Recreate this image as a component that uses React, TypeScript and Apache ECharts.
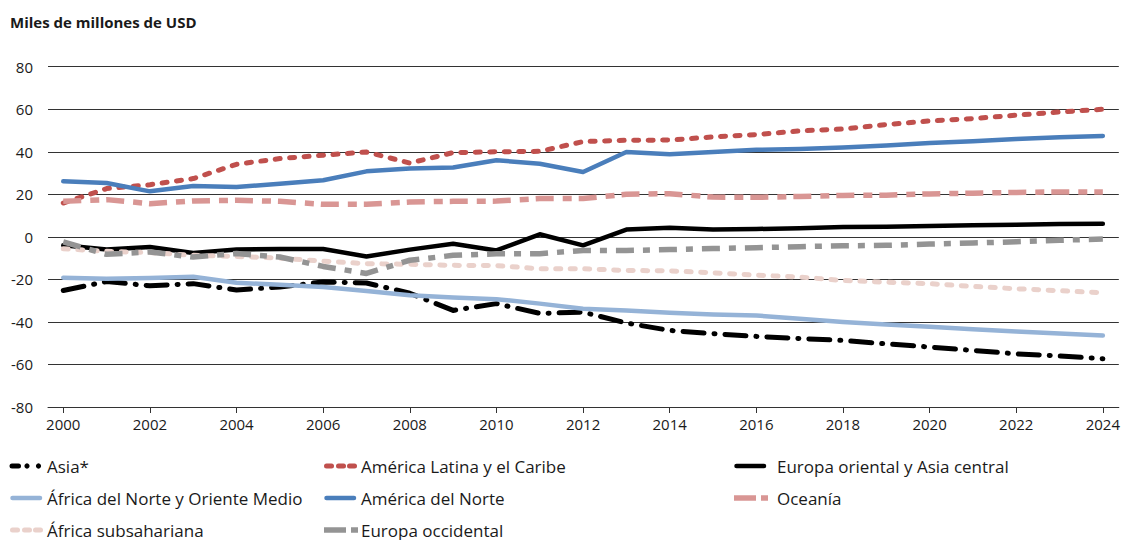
import React, { useEffect, useRef } from "react";
import * as echarts from "echarts";

const years = [2000, 2001, 2002, 2003, 2004, 2005, 2006, 2007, 2008, 2009, 2010, 2011, 2012, 2013, 2014, 2015, 2016, 2017, 2018, 2019, 2020, 2021, 2022, 2023, 2024];
const xTickLabels = [2000, 2002, 2004, 2006, 2008, 2010, 2012, 2014, 2016, 2018, 2020, 2022, 2024];

const asia = [-25.2, -21, -23, -22, -25, -23.6, -21.2, -21.7, -26.5, -34.6, -31.4, -36, -35.4, -40.5, -44, -45.5, -46.8, -47.8, -48.7, -50.3, -51.8, -53.4, -55, -56, -57.3];
const latina = [15.9, 22.7, 24.5, 27.4, 34.1, 36.8, 38.4, 39.9, 34.7, 39.6, 40, 40.2, 44.8, 45.4, 45.5, 47, 48.1, 49.8, 50.7, 52.8, 54.5, 55.6, 57.2, 58.7, 60];
const oriental = [-4, -6, -4.8, -7.6, -5.9, -5.7, -5.7, -9.2, -6, -3.2, -6.4, 1.2, -4, 3.4, 4.3, 3.5, 3.7, 4, 4.6, 4.8, 5.1, 5.4, 5.7, 6, 6.2];
const africaNorte = [-19.2, -19.7, -19.3, -18.8, -21.6, -22.5, -23.6, -25.5, -27.5, -28.5, -29.3, -31.4, -33.8, -34.6, -35.7, -36.5, -37, -38.5, -40, -41.2, -42.3, -43.4, -44.5, -45.4, -46.4];
const norte = [26.1, 25.3, 21.4, 23.9, 23.4, 25, 26.6, 30.8, 32.1, 32.6, 36, 34.4, 30.5, 39.9, 38.8, 39.9, 40.9, 41.3, 42, 43, 44.1, 45, 46, 46.8, 47.4];
const oceania = [16.7, 17.5, 15.6, 16.9, 17.2, 16.7, 15.3, 15.3, 16.4, 16.7, 16.8, 18, 18, 20, 20.3, 18.7, 18.6, 19, 19.5, 19.6, 20.2, 20.5, 20.9, 21.1, 21.1];
const subsahariana = [-5.6, -6.8, -7.4, -8.7, -9.2, -10, -11.4, -12.6, -12.9, -13.4, -13.5, -15, -15, -15.8, -16, -16.9, -18, -18.9, -20.5, -21.3, -22, -23.3, -24.4, -25.3, -26.3];
const occidental = [-2.4, -8.2, -7.1, -9.5, -7.8, -9.5, -13.9, -17.2, -11, -8.7, -8, -7.9, -6.4, -6.4, -6, -5.5, -5.1, -4.6, -4.2, -4, -3.4, -2.9, -2.3, -1.6, -1];

const names = [
  "Asia*",
  "América Latina y el Caribe",
  "Europa oriental y Asia central",
  "África del Norte y Oriente Medio",
  "América del Norte",
  "Oceanía",
  "África subsahariana",
  "Europa occidental",
];

const FONT = "'Open Sans', 'Noto Sans', sans-serif";

type Sty = { color: string; width: number; type: any; cap: string; icon: string };

const styles: Sty[] = [
  { color: "#000000", width: 5, type: [21, 10, 1, 10], cap: "round", icon: "dashdotdot" },
  { color: "#C0504D", width: 5, type: [5, 9.5], cap: "round", icon: "dots" },
  { color: "#000000", width: 4.5, type: "solid", cap: "round", icon: "solid" },
  { color: "#95B3D7", width: 4.5, type: "solid", cap: "round", icon: "solid" },
  { color: "#4A7EBB", width: 4.5, type: "solid", cap: "round", icon: "solid" },
  { color: "#D99694", width: 5.5, type: [18, 9, 9, 7], cap: "butt", icon: "longshort" },
  { color: "#EAD1CB", width: 5, type: [5, 9.5], cap: "round", icon: "dots" },
  { color: "#949494", width: 5.5, type: [18, 9, 7, 9], cap: "butt", icon: "longshort" },
];

const seriesValues = [asia, latina, oriental, africaNorte, norte, oceania, subsahariana, occidental];

function legendIcon(kind: string, x0: number, yc: number, color: string, w: number): any[] {
  const base = { stroke: color, lineWidth: w };
  if (kind === "dashdotdot") {
    return [
      { type: "line", shape: { x1: x0 + 2, y1: yc, x2: x0 + 8.5, y2: yc }, style: { ...base, lineCap: "round" } },
      { type: "circle", shape: { cx: x0 + 17, cy: yc, r: 2.6 }, style: { fill: color } },
      { type: "circle", shape: { cx: x0 + 28.5, cy: yc, r: 2.6 }, style: { fill: color } },
    ];
  }
  if (kind === "dots") {
    return [5, 17, 28].map((c) => ({
      type: "line",
      shape: { x1: x0 + c - 2.5, y1: yc, x2: x0 + c + 2.5, y2: yc },
      style: { ...base, lineCap: "round" },
    }));
  }
  if (kind === "solid") {
    return [
      { type: "line", shape: { x1: x0 + 2.5, y1: yc, x2: x0 + 30, y2: yc }, style: { ...base, lineCap: "round" } },
    ];
  }
  return [
    { type: "line", shape: { x1: x0, y1: yc, x2: x0 + 22, y2: yc }, style: { ...base, lineCap: "butt" } },
    { type: "line", shape: { x1: x0 + 27, y1: yc, x2: x0 + 34, y2: yc }, style: { ...base, lineCap: "butt" } },
  ];
}

export default function App() {
  const ref = useRef<HTMLDivElement>(null);
  useEffect(() => {
    if (!ref.current) return;
    const chart = echarts.init(ref.current, undefined, { renderer: "svg" });

    const colX = [10, 324, 734];
    const textX = [47, 361, 777];
    const rowY = [466, 498, 530];
    const legendEls: any[] = [];
    names.forEach((n, i) => {
      const c = i % 3;
      const r = Math.floor(i / 3);
      const s = styles[i];
      legendEls.push(...legendIcon(s.icon, colX[c], rowY[r], s.color, s.width));
      legendEls.push({
        type: "text",
        x: textX[c],
        y: rowY[r],
        style: { text: n, fill: "#1a1a1a", font: `17px ${FONT}`, textVerticalAlign: "middle", textAlign: "left" },
      });
    });

    const option: any = {
      animation: false,
      backgroundColor: "#ffffff",
      grid: { left: 48, right: 2, top: 66.7, bottom: 133 },
      xAxis: {
        type: "value",
        min: 1999.6475,
        max: 2024.3687,
        splitLine: { show: false },
        axisLine: { show: true, onZero: false, lineStyle: { color: "#333333", width: 1 } },
        axisTick: { show: true, length: 6, customValues: xTickLabels, lineStyle: { color: "#333333", width: 1 } },
        axisLabel: {
          customValues: xTickLabels,
          margin: 9,
          color: "#1a1a1a",
          fontFamily: FONT,
          fontSize: 15,
          formatter: (v: number) => String(Math.round(v)),
        },
      },
      yAxis: {
        type: "value",
        min: -80,
        max: 80,
        interval: 20,
        axisLine: { show: false },
        axisTick: { show: false },
        splitLine: { show: true, lineStyle: { color: "#333333", width: 1 } },
        axisLabel: { margin: 15, color: "#1a1a1a", fontFamily: FONT, fontSize: 15 },
      },
      graphic: [
        {
          type: "text",
          x: 10,
          y: 22,
          style: {
            text: "Miles de millones de USD",
            fill: "#1a1a1a",
            font: `bold 15px ${FONT}`,
            textVerticalAlign: "middle",
          },
        },
        ...legendEls,
      ],
      series: names.map((n, i) => ({
        type: "line",
        name: n,
        data: years.map((y, j) => [y, seriesValues[i][j]]),
        symbol: "none",
        z: 2 + i,
        lineStyle: {
          color: styles[i].color,
          width: styles[i].width,
          type: styles[i].type,
          cap: styles[i].cap,
          join: "round",
        },
      })),
    };
    chart.setOption(option);
    return () => chart.dispose();
  }, []);
  return <div ref={ref} style={{ width: 1123, height: 540, position: "absolute", left: 0, top: 0 }} />;
}
